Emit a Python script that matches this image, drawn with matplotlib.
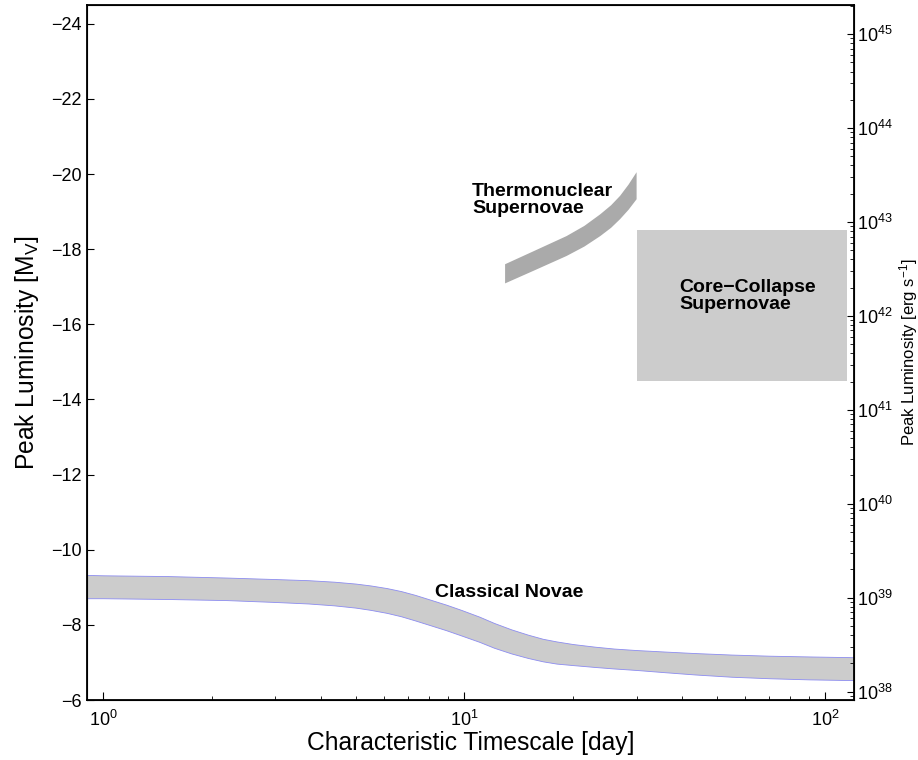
import numpy as np
import matplotlib
matplotlib.use('Agg')
import matplotlib.pyplot as plt

plt.rcParams['font.family'] = ['Liberation Sans', 'DejaVu Sans']
plt.rcParams['mathtext.fontset'] = 'custom'
plt.rcParams['mathtext.rm'] = 'Liberation Sans'
plt.rcParams['mathtext.it'] = 'Liberation Sans:italic'
plt.rcParams['mathtext.bf'] = 'Liberation Sans:bold'

# classical novae band (timescale in days, M_V upper/lower edge)
nova_t = [0.9, 1.0, 1.5, 2.2, 3.0, 3.7, 4.36, 5.0, 5.5, 6.1, 6.68, 7.3, 8.0, 8.9, 9.8,
          11.0, 12.1, 13.5, 15, 16.5, 18, 20, 23, 26, 30, 36, 43.6, 55, 70, 90, 120]
nova_bright = [-9.33, -9.32, -9.30, -9.26, -9.22, -9.19, -9.15, -9.10, -9.05, -8.98,
               -8.90, -8.80, -8.68, -8.54, -8.40, -8.22, -8.05, -7.88, -7.74, -7.63,
               -7.56, -7.49, -7.42, -7.37, -7.33, -7.29, -7.25, -7.21, -7.18, -7.16, -7.14]
nova_faint = [-8.71, -8.71, -8.69, -8.66, -8.61, -8.57, -8.52, -8.46, -8.40, -8.32,
              -8.23, -8.12, -8.00, -7.86, -7.72, -7.55, -7.39, -7.24, -7.12, -7.03,
              -6.97, -6.93, -6.88, -6.84, -6.80, -6.74, -6.68, -6.62, -6.58, -6.55, -6.53]

# thermonuclear supernovae band
snia_t = [12.97, 15.5, 19.2, 21.5, 23.8, 25.5, 27.0, 28.5, 30.0]
snia_bright = [-17.60, -17.94, -18.35, -18.62, -18.93, -19.17, -19.42, -19.72, -20.05]
snia_faint = [-17.09, -17.42, -17.82, -18.07, -18.35, -18.57, -18.80, -19.05, -19.33]

# core-collapse supernovae box
cc_t = [30.0, 115.0]
cc_mag = [-14.5, -18.5]

xlim = (0.9, 120)
ylim = (-6, -24.5)
lum_zero = 35.51  # log L = lum_zero - 0.4 M


fig = plt.figure(figsize=(9.18, 7.6), dpi=100)
ax = fig.add_axes([0.0944, 0.0789, 0.8359, 0.9145])

ax.fill_between(nova_t, nova_bright, nova_faint, facecolor='#cccccc',
                edgecolor='#8c8cf0', linewidth=0.6)
ax.fill_between(snia_t, snia_bright, snia_faint, facecolor='#aaaaaa',
                edgecolor='none', linewidth=0)
ax.fill_between(cc_t, [cc_mag[0]] * 2, [cc_mag[1]] * 2, facecolor='#cccccc',
                edgecolor='none', linewidth=0)

ax.text(10.5, -19.3, 'Thermonuclear\nSupernovae', fontsize=14, fontweight='bold',
        ha='left', va='center', linespacing=1.0)
ax.text(39.5, -16.75, 'Core\u2212Collapse\nSupernovae', fontsize=14, fontweight='bold',
        ha='left', va='center', linespacing=1.0)
ax.text(8.3, -8.85, 'Classical Novae', fontsize=14, fontweight='bold',
        ha='left', va='center')

ax.set_xscale('log')
ax.set_xlim(xlim)
ax.set_ylim(ylim)
ax.set_yticks(np.arange(-24, -5, 2))
ax.tick_params(axis='both', which='both', direction='in', labelsize=13, top=False)
ax.tick_params(axis='y', which='major', length=5)
ax.tick_params(axis='x', which='major', length=6, pad=7)
ax.tick_params(axis='x', which='minor', length=3)
ax.set_xlabel('Characteristic Timescale [day]', fontsize=17.7, labelpad=1)
ax.set_ylabel(r'Peak Luminosity [M$_\mathrm{V}$]', fontsize=17.7, labelpad=7)
for s in ax.spines.values():
    s.set_linewidth(1.3)

ax2 = ax.twinx()
ax2.set_yscale('log')
ax2.set_ylim(10 ** (lum_zero - 0.4 * ylim[0]), 10 ** (lum_zero - 0.4 * ylim[1]))
ax2.tick_params(axis='y', which='both', direction='in', labelsize=13, pad=2)
ax2.tick_params(axis='y', which='major', length=5)
ax2.tick_params(axis='y', which='minor', length=3)
ax2.set_ylabel(r'Peak Luminosity [erg s$^{-1}$]', fontsize=12, labelpad=3)

fig.savefig('out.png', dpi=100)
